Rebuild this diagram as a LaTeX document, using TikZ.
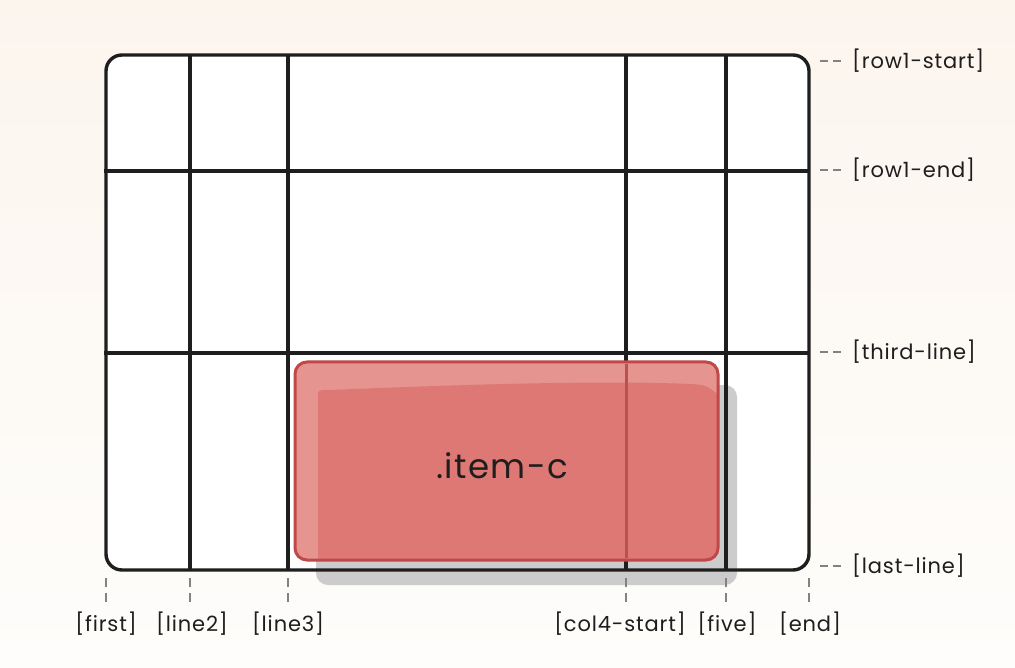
\documentclass[tikz,border=0pt]{standalone}
\usepackage{fontspec}
\setmainfont{Poppins}
\newfontfamily\lblfont[LetterSpace=4]{Poppins}
\definecolor{bgtop}{RGB}{252,245,238}
\definecolor{bgbot}{RGB}{254,253,251}
\definecolor{ink}{RGB}{30,30,30}
\definecolor{tickc}{RGB}{130,130,130}
\definecolor{boxmain}{RGB}{221,120,116}
\definecolor{boxlight}{RGB}{229,148,144}
\definecolor{boxedge}{RGB}{192,72,72}
\definecolor{boxline}{RGB}{185,82,78}
\definecolor{shadowc}{RGB}{204,204,204}
\tikzset{
  gridline/.style={draw=ink, line width=3.2pt},
  tickline/.style={draw=tickc, line width=1.2pt, dash pattern=on 8pt off 5pt},
  lbl/.style={text=ink, font=\lblfont\fontsize{21}{24}\selectfont, inner sep=0pt},
}
\begin{document}
\begin{tikzpicture}[x=1pt,y=-1pt]
\useasboundingbox (0,0) rectangle (1015,668);
\shade[top color=bgtop, bottom color=bgbot] (0,0) rectangle (1015,668);
% grid fill
\fill[white, rounded corners=16pt] (106,55) rectangle (809,570);
% shadow
\fill[shadowc, rounded corners=12pt] (316,385) rectangle (737,585);
% grid lines
\coordinate (c1) at (106,570); \coordinate (c2) at (190,570); \coordinate (c3) at (288,570);
\coordinate (c4) at (626,570); \coordinate (c5) at (726,570); \coordinate (c6) at (809,570);
\coordinate (r1) at (809,55); \coordinate (r2) at (809,171); \coordinate (r3) at (809,353); \coordinate (r4) at (809,570);
\draw[gridline] (190,55) -- (c2);
\draw[gridline] (288,55) -- (c3);
\draw[gridline] (626,55) -- (c4);
\draw[gridline] (726,55) -- (c5);
\draw[gridline] (104,171) -- (r2);
\draw[gridline] (104,353) -- (r3);
\draw[gridline, line width=3.4pt, rounded corners=16pt] (106,55) rectangle (809,570);
% item box
\fill[boxlight, rounded corners=12pt] (295,362) rectangle (718,560);
\begin{scope}
\clip[rounded corners=12pt] (295,362) rectangle (718,560);
\fill[boxmain] (318,562) -- (318,397) .. controls (318,390) .. (330,390)
  .. controls (450,385) and (600,380) .. (690,384)
  .. controls (706,385) .. (720,396) -- (720,562) -- cycle;
\end{scope}
\draw[boxline, line width=3pt] (626,364) -- (626,558);
\draw[boxedge, line width=3pt, rounded corners=12pt] (295,362) rectangle (718,560);
\node[text=ink, font=\lblfont\fontsize{34}{40}\selectfont, inner sep=0pt] (item) at (502,466) {.item-c};
% right labels
\node[lbl, anchor=west] (lr1) at (852,61) {[row1-start]};
\node[lbl, anchor=west] (lr2) at (852,170) {[row1-end]};
\node[lbl, anchor=west] (lr3) at (852,352) {[third-line]};
\node[lbl, anchor=west] (lr4) at (852,566) {[last-line]};
\foreach \r/\y in {lr1/61, lr2/170, lr3/352, lr4/566}{
  \coordinate (ta) at (820,\y);
  \draw[tickline] (ta) -- (\r.west -| 844,0);
}
% bottom labels
\node[lbl] (lb1) at (106,624) {[first]};
\node[lbl] (lb2) at (192,624) {[line2]};
\node[lbl] (lb3) at (288,624) {[line3]};
\node[lbl] (lb4) at (620,624) {[col4-start]};
\node[lbl] (lb5) at (727,624) {[five]};
\node[lbl] (lb6) at (810,624) {[end]};
\foreach \c/\x in {c1/106, c2/190, c3/288, c4/626, c5/726, c6/809}{
  \coordinate (tb) at (\x,578);
  \draw[tickline, dash pattern=on 9pt off 6pt] (tb) -- ++(0,24);
}
\end{tikzpicture}
\end{document}
